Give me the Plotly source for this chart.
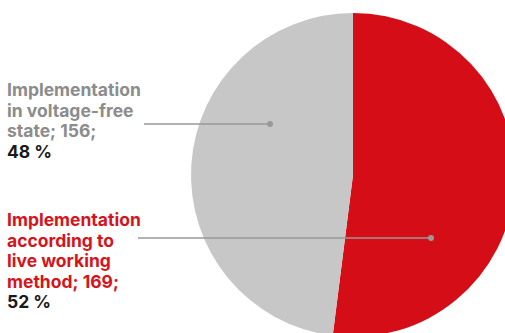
import plotly.graph_objects as go

labels = ["Implementation according to live working method", "Implementation in voltage-free state"]
values = [169, 156]
percents = ["52 %", "48 %"]
colors = ["#d50d17", "#c6c7c6"]
text_colors = ["#d5141c", "#8c8c8c"]
label_lines = [
    ["Implementation", "according to", "live working", "method; 169;"],
    ["Implementation", "in voltage-free", "state; 156;"],
]

W, H = 520, 340

def px(x):
    return x / W

def py(y):
    return 1 - y / H

fig = go.Figure()
fig.add_trace(go.Pie(
    labels=labels, values=values, sort=False, direction="clockwise", rotation=0,
    marker=dict(colors=colors, line=dict(width=0)), textinfo="none", hoverinfo="label+value+percent",
    domain=dict(x=[px(191), px(515)], y=[py(337), py(13)]),
    showlegend=False,
))

FONT = "Inter"
BASE = 15.8   # controls line spacing (1.3 em)
FS = 17.5     # glyph size
annotations = []
shapes = []

def add_label(lines, pct, color, y_mid, x_line0, y_line, x_dot):
    parts = ['<span style="font-size:%spx">%s</span>' % (FS, t) for t in lines]
    parts.append('<span style="font-size:%spx;color:#1a1a1a">%s</span>' % (FS, pct))
    annotations.append(dict(x=px(5), y=py(y_mid), xref="paper", yref="paper",
                            text="<br>".join(parts), showarrow=False, xanchor="left", yanchor="middle",
                            align="left", font=dict(family=FONT, size=BASE, color=color, weight=700)))
    shapes.append(dict(type="line", xref="paper", yref="paper", x0=px(x_line0), x1=px(x_dot),
                       y0=py(y_line), y1=py(y_line), line=dict(color="#999999", width=1.5)))
    r = 3
    shapes.append(dict(type="circle", xref="paper", yref="paper", x0=px(x_dot - r), x1=px(x_dot + r),
                       y0=py(y_line - r), y1=py(y_line + r), fillcolor="#999999", line=dict(width=0)))

add_label(label_lines[1], percents[1], text_colors[1], 120, 144, 124, 270)
add_label(label_lines[0], percents[0], text_colors[0], 260, 138, 238, 431)

fig.update_layout(width=W, height=H, margin=dict(l=0, r=0, t=0, b=0),
                  paper_bgcolor="white", plot_bgcolor="white",
                  annotations=annotations, shapes=shapes)

fig.write_html("out.html", config={"displayModeBar": False},
               post_script="document.body.style.margin='0';document.body.style.overflow='hidden';")
